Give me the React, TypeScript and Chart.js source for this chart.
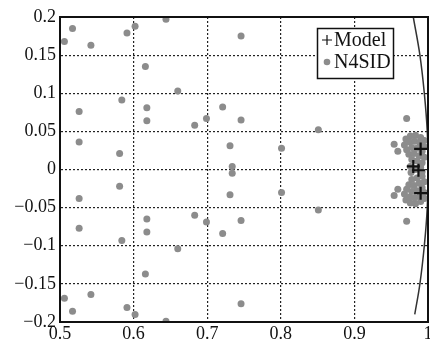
import React, { useEffect, useRef } from "react";
import { Chart, registerables } from "chart.js";

Chart.register(...registerables);

const xTicks = [0.5, 0.6, 0.7, 0.8, 0.9, 1];
const yTicks = [0.2, 0.15, 0.1, 0.05, 0, -0.05, -0.1, -0.15, -0.2];

const modelX = [0.99, 0.98, 0.987, 0.99];
const modelY = [0.027, 0.004, -0.001, -0.031];

const n4sidX = [
  0.506, 0.517, 0.542, 0.591, 0.602, 0.644, 0.616, 0.66, 0.584, 0.526, 0.618, 0.618, 0.683, 0.699, 0.526, 0.581,
  0.746, 0.721, 0.746, 0.731, 0.801, 0.851, 0.971, 0.954, 0.959, 0.734,
  0.581, 0.526, 0.526, 0.618, 0.618, 0.584, 0.66, 0.683, 0.699, 0.616, 0.506, 0.517, 0.542, 0.591, 0.602, 0.644,
  0.734, 0.731, 0.801, 0.721, 0.746, 0.851, 0.746, 0.971, 0.954, 0.959,
  0.97, 0.976, 0.983, 0.99, 0.995, 0.968, 0.975, 0.982, 0.989, 0.995, 0.971, 0.978, 0.985, 0.992, 0.974, 0.981, 0.988, 0.995, 0.978, 0.985, 0.992,
  0.97, 0.976, 0.983, 0.99, 0.995, 0.968, 0.975, 0.982, 0.989, 0.995, 0.971, 0.978, 0.985, 0.992, 0.974, 0.981, 0.988, 0.995, 0.978, 0.985, 0.992,
  0.976, 0.983, 0.99, 0.977, 0.992,
];
const n4sidY = [
  0.168, 0.185, 0.163, 0.179, 0.188, 0.197, 0.135, 0.103, 0.091, 0.076, 0.081, 0.064, 0.058, 0.067, 0.036, 0.021,
  0.175, 0.082, 0.065, 0.031, 0.028, 0.052, 0.067, 0.033, 0.024, 0.004,
  -0.022, -0.038, -0.077, -0.065, -0.082, -0.093, -0.104, -0.06, -0.069, -0.137, -0.169, -0.186, -0.164, -0.181, -0.19, -0.199,
  -0.005, -0.033, -0.03, -0.084, -0.067, -0.053, -0.176, -0.068, -0.034, -0.026,
  0.04, 0.044, 0.045, 0.042, 0.038, 0.032, 0.036, 0.037, 0.035, 0.03, 0.026, 0.029, 0.028, 0.024, 0.02, 0.021, 0.018, 0.016, 0.013, 0.011, 0.009,
  -0.04, -0.044, -0.045, -0.042, -0.038, -0.032, -0.036, -0.037, -0.035, -0.03, -0.026, -0.029, -0.028, -0.024, -0.02, -0.021, -0.018, -0.016, -0.013, -0.011, -0.009,
  0.004, 0.0, 0.003, -0.004, -0.003,
];

const circleX = [0.98, 0.989, 0.995, 0.999, 1.0, 0.999, 0.995, 0.989, 0.982];
const circleY = [0.2, 0.15, 0.1, 0.05, 0, -0.05, -0.1, -0.15, -0.19];

const seriesNames = ["Model", "N4SID"];

const FONT = "'Liberation Serif', 'Times New Roman', serif";

const frameLegendPlugin = {
  id: "frameLegend",
  afterDatasetsDraw(chart: any) {
    const { ctx, chartArea } = chart;
    ctx.save();
    ctx.strokeStyle = "#111";
    ctx.lineWidth = 2;
    ctx.setLineDash([]);
    ctx.strokeRect(chartArea.left, chartArea.top, chartArea.right - chartArea.left, chartArea.bottom - chartArea.top);
    // legend box
    const bx = chartArea.right - 111;
    const by = chartArea.top + 11;
    const bw = 76;
    const bh = 50;
    ctx.fillStyle = "#fff";
    ctx.fillRect(bx, by, bw, bh);
    ctx.lineWidth = 1.5;
    ctx.strokeStyle = "#111";
    ctx.strokeRect(bx + 0.5, by + 0.5, bw, bh);
    const r1 = by + 12;
    const r2 = by + 34;
    const mx = bx + 10;
    ctx.beginPath();
    ctx.lineWidth = 1.2;
    ctx.moveTo(mx - 5, r1);
    ctx.lineTo(mx + 5, r1);
    ctx.moveTo(mx, r1 - 5);
    ctx.lineTo(mx, r1 + 5);
    ctx.stroke();
    ctx.fillStyle = "#8c8c8c";
    ctx.beginPath();
    ctx.arc(mx, r2, 3.3, 0, Math.PI * 2);
    ctx.fill();
    ctx.fillStyle = "#111";
    ctx.font = `20px ${FONT}`;
    ctx.textBaseline = "middle";
    ctx.textAlign = "left";
    ctx.fillText(seriesNames[0], bx + 17, r1 + 1);
    ctx.fillText(seriesNames[1], bx + 17, r2 + 1);
    ctx.restore();
  },
};

export default function App() {
  const ref = useRef<HTMLCanvasElement>(null);
  useEffect(() => {
    document.body.style.margin = "0";
    const canvas = ref.current!;
    const chart = new Chart(canvas, {
      type: "scatter",
      data: {
        datasets: [
          {
            label: seriesNames[0],
            data: modelX.map((x, i) => ({ x, y: modelY[i] })),
            pointStyle: "cross",
            pointRadius: 6.5,
            borderColor: "#111",
            borderWidth: 2.2,
            backgroundColor: "#111",
          },
          {
            label: seriesNames[1],
            data: n4sidX.map((x, i) => ({ x, y: n4sidY[i] })),
            pointStyle: "circle",
            pointRadius: 3.5,
            borderWidth: 0,
            backgroundColor: "#8c8c8c",
            borderColor: "#8c8c8c",
          },
          {
            label: "circle",
            data: circleX.map((x, i) => ({ x, y: circleY[i] })),
            showLine: true,
            pointRadius: 0,
            borderColor: "#333",
            borderWidth: 1.5,
            tension: 0.4,
          } as any,
        ],
      },
      options: {
        responsive: false,
        animation: false,
        devicePixelRatio: 1,
        layout: { autoPadding: false, padding: { top: 17, right: 2, left: 0, bottom: 0 } },
        plugins: { legend: { display: false }, tooltip: { enabled: false } },
        scales: {
          x: {
            type: "linear",
            position: "bottom",
            min: 0.5,
            max: 1,
            afterBuildTicks: (s: any) => {
              s.ticks = xTicks.map((v) => ({ value: v }));
            },
            afterFit: (s: any) => {
              s.height = 18;
              s.paddingLeft = 0;
              s.paddingRight = 0;
            },
            ticks: {
              font: { family: FONT, size: 18 },
              color: "#111",
              padding: 1,
              maxRotation: 0,
              autoSkip: false,
              callback: (v: any) => String(v),
            },
            grid: { color: "#222", lineWidth: 1.2, drawTicks: false },
            border: { display: true, color: "#111", width: 2, dash: [2, 2] },
          },
          y: {
            type: "linear",
            min: -0.2,
            max: 0.2,
            afterBuildTicks: (s: any) => {
              s.ticks = yTicks.map((v) => ({ value: v }));
            },
            afterFit: (s: any) => {
              s.width = 60;
              s.paddingTop = 0;
              s.paddingBottom = 0;
            },
            ticks: {
              font: { family: FONT, size: 18 },
              color: "#111",
              padding: 4,
              autoSkip: false,
              callback: (v: any) => String(v).replace("-", "\u2212"),
            },
            grid: { color: "#222", lineWidth: 1.2, drawTicks: false },
            border: { display: true, color: "#111", width: 2, dash: [2, 2] },
          },
        },
      },
      plugins: [frameLegendPlugin],
    });
    return () => chart.destroy();
  }, []);
  return (
    <div style={{ width: 430, height: 340, background: "#fff" }}>
      <canvas ref={ref} width={430} height={340} />
    </div>
  );
}
